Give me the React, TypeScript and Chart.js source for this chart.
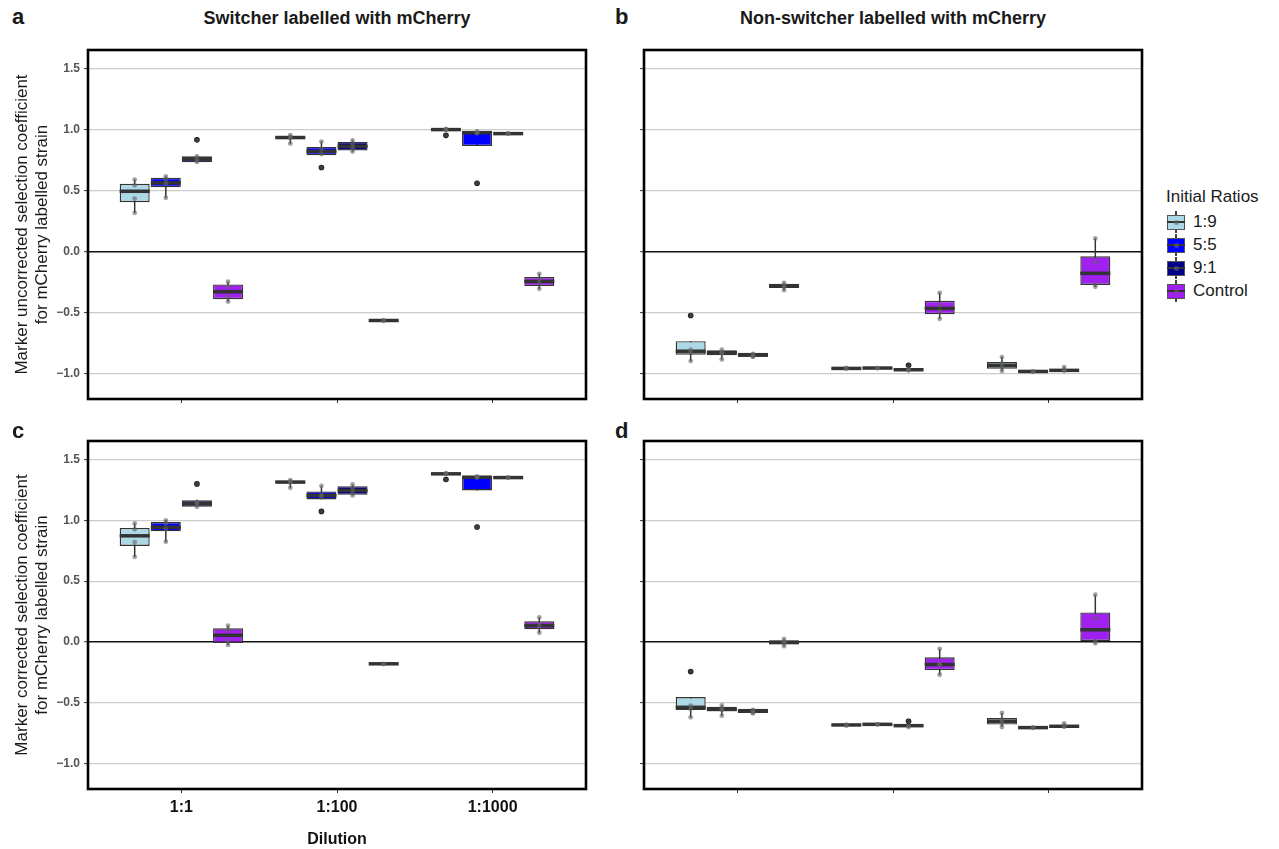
import React, { useEffect, useRef } from 'react';
import { Chart, registerables } from 'chart.js';

Chart.register(...registerables);

const FONT = "'Liberation Sans', Arial, Helvetica, sans-serif";

const dilutions = ['1:1', '1:100', '1:1000'];
const ratios = ['1:9', '5:5', '9:1', 'Control'];
const ratioColors = ['#ADD8E6', '#0000FF', '#00008B', '#A020F0'];
const yTicks = [-1.0, -0.5, 0.0, 0.5, 1.0, 1.5];
const dodge = [-0.3, -0.1, 0.1, 0.3];
const yMin = -1.21;
const yMax = 1.653;

// Panel a: switcher labelled, uncorrected  — arrays are [dilution][ratio]
const aLow = [[0.317, 0.44, 0.73, -0.41], [0.885, 0.79, 0.82, -0.572], [0.99, 0.865, 0.962, -0.306]];
const aQ1 = [[0.404, 0.527, 0.733, -0.391], [0.92, 0.79, 0.828, -0.569], [0.995, 0.865, 0.965, -0.284]];
const aMed = [[0.494, 0.563, 0.76, -0.33], [0.935, 0.822, 0.863, -0.566], [1.0, 0.975, 0.967, -0.246]];
const aQ3 = [[0.555, 0.604, 0.782, -0.27], [0.945, 0.858, 0.899, -0.563], [1.003, 0.98, 0.969, -0.21]];
const aHigh = [[0.59, 0.617, 0.785, -0.248], [0.955, 0.902, 0.912, -0.56], [1.005, 0.985, 0.972, -0.183]];
const aPoints = [
  [[0.59, 0.543, 0.434, 0.317], [0.617, 0.59, 0.556, 0.44], [0.916, 0.735, 0.755, 0.78], [-0.248, -0.29, -0.37, -0.41]],
  [[0.955, 0.94, 0.93, 0.885], [0.902, 0.84, 0.8, 0.689], [0.912, 0.88, 0.845, 0.82], [-0.566, -0.568]],
  [[1.005, 1.0, 0.998, 0.953], [0.985, 0.975, 0.97, 0.56], [0.967, 0.968], [-0.183, -0.23, -0.26, -0.306]],
];
const aOutliers = [[[], [], [0.916], []], [[], [0.689], [], []], [[0.953], [0.56], [], []]];

// Panel b: non-switcher labelled, uncorrected
const bLow = [[-0.899, -0.885, -0.866, -0.317], [-0.966, -0.962, -0.975, -0.552], [-0.981, -0.987, -0.978, -0.29]];
const bQ1 = [[-0.847, -0.852, -0.863, -0.3], [-0.962, -0.959, -0.972, -0.514], [-0.962, -0.985, -0.977, -0.275]];
const bMed = [[-0.818, -0.83, -0.85, -0.284], [-0.959, -0.956, -0.97, -0.467], [-0.934, -0.984, -0.975, -0.179]];
const bQ3 = [[-0.736, -0.811, -0.83, -0.265], [-0.956, -0.953, -0.965, -0.404], [-0.907, -0.982, -0.97, -0.039]];
const bHigh = [[-0.736, -0.806, -0.828, -0.257], [-0.953, -0.95, -0.962, -0.339], [-0.866, -0.98, -0.948, 0.107]];
const bPoints = [
  [[-0.525, -0.806, -0.83, -0.899], [-0.806, -0.83, -0.835, -0.885], [-0.84, -0.855, -0.86, -0.865], [-0.257, -0.28, -0.29, -0.317]],
  [[-0.955, -0.962], [-0.956, -0.957], [-0.934, -0.968, -0.972, -0.975], [-0.339, -0.44, -0.49, -0.552]],
  [[-0.866, -0.92, -0.95, -0.981], [-0.984, -0.985], [-0.948, -0.975, -0.977], [0.107, -0.088, -0.27, -0.29]],
];
const bOutliers = [[[-0.525], [], [], []], [[], [], [-0.934], []], [[], [], [], []]];

// Panel c: switcher labelled, corrected
const cLow = [[0.7, 0.825, 1.112, -0.025], [1.268, 1.172, 1.205, -0.186], [1.375, 1.246, 1.348, 0.076]];
const cQ1 = [[0.79, 0.91, 1.112, -0.008], [1.305, 1.172, 1.21, -0.183], [1.378, 1.246, 1.35, 0.104]];
const cMed = [[0.873, 0.943, 1.139, 0.055], [1.315, 1.205, 1.246, -0.18], [1.383, 1.355, 1.352, 0.134]];
const cQ3 = [[0.938, 0.986, 1.166, 0.112], [1.325, 1.238, 1.281, -0.177], [1.386, 1.358, 1.354, 0.17]];
const cHigh = [[0.975, 1.0, 1.17, 0.134], [1.33, 1.284, 1.295, -0.174], [1.388, 1.362, 1.356, 0.202]];
const cPoints = [
  [[0.975, 0.926, 0.82, 0.7], [1.0, 0.975, 0.93, 0.825], [1.3, 1.112, 1.14, 1.15], [0.134, 0.098, 0.01, -0.025]],
  [[1.33, 1.32, 1.31, 1.268], [1.284, 1.21, 1.195, 1.074], [1.295, 1.26, 1.23, 1.205], [-0.18, -0.182]],
  [[1.388, 1.383, 1.38, 1.336], [1.362, 1.355, 1.35, 0.945], [1.352, 1.353], [0.202, 0.15, 0.12, 0.076]],
];
const cOutliers = [[[], [], [1.3], []], [[], [1.074], [], []], [[1.336], [0.945], [], []]];

// Panel d: non-switcher labelled, corrected
const dLow = [[-0.62, -0.607, -0.588, -0.035], [-0.69, -0.683, -0.7, -0.27], [-0.7, -0.709, -0.699, -0.011]];
const dQ1 = [[-0.56, -0.571, -0.585, -0.019], [-0.687, -0.681, -0.695, -0.232], [-0.68, -0.707, -0.697, 0.008]];
const dMed = [[-0.538, -0.555, -0.568, -0.005], [-0.683, -0.678, -0.689, -0.186], [-0.653, -0.705, -0.694, 0.1]];
const dQ3 = [[-0.453, -0.533, -0.549, 0.014], [-0.679, -0.676, -0.685, -0.126], [-0.626, -0.703, -0.69, 0.243]];
const dHigh = [[-0.453, -0.522, -0.547, 0.025], [-0.676, -0.674, -0.682, -0.057], [-0.584, -0.701, -0.67, 0.388]];
const dPoints = [
  [[-0.243, -0.525, -0.55, -0.62], [-0.522, -0.55, -0.56, -0.607], [-0.56, -0.575, -0.58, -0.588], [0.025, -0.005, -0.01, -0.035]],
  [[-0.68, -0.69], [-0.678, -0.679], [-0.653, -0.69, -0.7], [-0.057, -0.18, -0.19, -0.27]],
  [[-0.584, -0.64, -0.665, -0.7], [-0.705, -0.706], [-0.67, -0.694, -0.697], [0.388, 0.194, 0.005, -0.011]],
];
const dOutliers = [[[-0.243], [], [], []], [[], [], [-0.653], []], [[], [], [], []]];

const yTitleA = ['Marker uncorrected selection coefficient', 'for mCherry labelled strain'];
const yTitleC = ['Marker corrected selection coefficient', 'for mCherry labelled strain'];

const panels = [
  { id: 'a', low: aLow, q1: aQ1, med: aMed, q3: aQ3, high: aHigh, pts: aPoints, outs: aOutliers,
    left: 0, top: 44, w: 600, h: 360, yW: 88, xH: 5, padTop: 6, padRight: 14, yLabels: true, xLabels: false, yTitle: yTitleA },
  { id: 'b', low: bLow, q1: bQ1, med: bMed, q3: bQ3, high: bHigh, pts: bPoints, outs: bOutliers,
    left: 640, top: 44, w: 510, h: 360, yW: 4, xH: 5, padTop: 6, padRight: 8, yLabels: false, xLabels: false, yTitle: null },
  { id: 'c', low: cLow, q1: cQ1, med: cMed, q3: cQ3, high: cHigh, pts: cPoints, outs: cOutliers,
    left: 0, top: 435, w: 600, h: 414, yW: 88, xH: 60, padTop: 6, padRight: 14, yLabels: true, xLabels: true, yTitle: yTitleC },
  { id: 'd', low: dLow, q1: dQ1, med: dMed, q3: dQ3, high: dHigh, pts: dPoints, outs: dOutliers,
    left: 640, top: 435, w: 510, h: 414, yW: 4, xH: 60, padTop: 6, padRight: 8, yLabels: false, xLabels: false, yTitle: null },
];

const borderPlugin = {
  id: 'panelBorder',
  afterDraw(chart: any) {
    const { ctx, chartArea: a } = chart;
    ctx.save();
    ctx.strokeStyle = '#000';
    ctx.lineWidth = 2.6;
    ctx.strokeRect(a.left, a.top, a.right - a.left, a.bottom - a.top);
    ctx.restore();
  },
};

function buildConfig(p: any) {
  const datasets: any[] = [];
  const pointData: any[] = [];
  const outlierData: any[] = [];
  ratios.forEach((name, r) => {
    const xs = dilutions.map((_, d) => d + 1 + dodge[r]);
    datasets.push({
      type: 'bar', label: name + ' whiskers',
      data: xs.map((x, d) => ({ x, y: [p.low[d][r], p.high[d][r]] })),
      backgroundColor: '#333333', borderWidth: 0, barThickness: 1.5, grouped: false, inflateAmount: 0, order: 5,
    });
    datasets.push({
      type: 'bar', label: name,
      data: xs.map((x, d) => ({ x, y: [p.q1[d][r], p.q3[d][r]] })),
      backgroundColor: ratioColors[r], borderColor: '#333333', borderWidth: 1.4, borderSkipped: false,
      barThickness: 30, grouped: false, inflateAmount: 0, order: 4,
    });
    datasets.push({
      type: 'scatter', label: name + ' median',
      data: xs.map((x, d) => ({ x, y: p.med[d][r] })),
      pointStyle: 'line', pointRadius: 15, pointHoverRadius: 15,
      pointBorderColor: '#333333', borderColor: '#333333', pointBorderWidth: 3.5, order: 3,
    });
    xs.forEach((x, d) => {
      p.pts[d][r].forEach((v: number) => pointData.push({ x, y: v }));
      p.outs[d][r].forEach((v: number) => outlierData.push({ x, y: v }));
    });
  });
  datasets.push({
    type: 'scatter', label: 'outliers', data: outlierData,
    pointRadius: 2.8, pointBackgroundColor: '#000000', pointBorderWidth: 0, order: 2,
  });
  datasets.push({
    type: 'scatter', label: 'replicates', data: pointData,
    pointRadius: 2.4, pointBackgroundColor: 'rgba(100,100,100,0.6)', pointBorderWidth: 0, order: 1,
  });

  return {
    type: 'scatter',
    data: { datasets },
    plugins: [borderPlugin],
    options: {
      animation: false,
      responsive: false,
      maintainAspectRatio: false,
      devicePixelRatio: 1,
      events: [],
      layout: { autoPadding: false, padding: { top: p.padTop, right: p.padRight, left: 0, bottom: 0 } },
      plugins: { legend: { display: false }, tooltip: { enabled: false } },
      scales: {
        x: {
          type: 'linear', min: 0.4, max: 3.6, bounds: 'data', offset: false,
          afterBuildTicks: (s: any) => { s.ticks = dilutions.map((_, i) => ({ value: i + 1 })); },
          afterFit: (s: any) => { s.height = p.xH; s.paddingLeft = 0; s.paddingRight = 0; },
          ticks: {
            display: p.xLabels, autoSkip: false, maxRotation: 0, padding: 5, color: '#111111',
            font: { family: FONT, size: 16, weight: 'bold' },
            callback: (v: number) => dilutions[Math.round(v) - 1] ?? '',
          },
          grid: { display: true, drawOnChartArea: false, drawTicks: true, tickLength: 4, tickColor: '#333333', tickWidth: 1, offset: false },
          border: { display: false },
          title: {
            display: p.xLabels, text: 'Dilution', color: '#111111',
            font: { family: FONT, size: 16, weight: 'bold' }, padding: { top: 0, bottom: 0 },
          },
        },
        y: {
          type: 'linear', min: yMin, max: yMax, bounds: 'data',
          afterBuildTicks: (s: any) => { s.ticks = yTicks.map((v) => ({ value: v })); },
          afterFit: (s: any) => { s.width = p.yW; s.paddingTop = 0; s.paddingBottom = 0; },
          ticks: {
            display: p.yLabels, padding: 4, color: '#555555',
            font: { family: FONT, size: 12, weight: 'bold' },
            callback: (v: number) => (v < 0 ? '\u2212' : '') + Math.abs(v).toFixed(1),
          },
          grid: {
            color: (c: any) => (c.tick && Math.abs(c.tick.value) < 1e-9 ? '#111111' : '#cccccc'),
            lineWidth: (c: any) => (c.tick && Math.abs(c.tick.value) < 1e-9 ? 1.4 : 1.2),
            drawTicks: true, tickLength: 4, tickColor: '#333333', tickWidth: 1,
          },
          border: { display: false },
          title: {
            display: !!p.yTitle, text: p.yTitle || '', color: '#1a1a1a',
            font: { family: FONT, size: 17, lineHeight: 1.2 }, padding: { top: 12, bottom: 0 },
          },
        },
      },
    },
  };
}

function BoxPanel({ p }: { p: any }) {
  const ref = useRef<HTMLCanvasElement | null>(null);
  useEffect(() => {
    if (!ref.current) return;
    const chart = new Chart(ref.current, buildConfig(p) as any);
    return () => chart.destroy();
  }, []);
  return (
    <canvas
      ref={ref}
      width={p.w}
      height={p.h}
      style={{ position: 'absolute', left: p.left, top: p.top, width: p.w, height: p.h }}
    />
  );
}

const textBase: React.CSSProperties = { position: 'absolute', fontFamily: FONT, color: '#1a1a1a', whiteSpace: 'nowrap' };

const legendY = [222, 245, 268, 291];

function LegendKey({ color, cy }: { color: string; cy: number }) {
  return (
    <>
      <div style={{ position: 'absolute', left: 1175, top: cy - 11, width: 1.5, height: 22, background: '#444' }} />
      <div style={{ position: 'absolute', left: 1167, top: cy - 7, width: 16, height: 13, background: color, border: '1px solid #555' }} />
      <div style={{ position: 'absolute', left: 1167, top: cy - 1, width: 18, height: 2, background: '#333' }} />
      <div style={{ position: 'absolute', left: 1173.5, top: cy - 2.5, width: 5, height: 5, borderRadius: 3, background: 'rgba(100,100,100,0.6)' }} />
    </>
  );
}

export default function App() {
  return (
    <div style={{ position: 'absolute', left: 0, top: 0, width: 1279, height: 849, background: '#ffffff', overflow: 'hidden' }}>
      {panels.map((p) => <BoxPanel key={p.id} p={p} />)}

      <div style={{ ...textBase, left: 12, top: 6, fontSize: 22, fontWeight: 'bold', lineHeight: '22px' }}>a</div>
      <div style={{ ...textBase, left: 615, top: 6, fontSize: 22, fontWeight: 'bold', lineHeight: '22px' }}>b</div>
      <div style={{ ...textBase, left: 12, top: 420, fontSize: 22, fontWeight: 'bold', lineHeight: '22px' }}>c</div>
      <div style={{ ...textBase, left: 615, top: 420, fontSize: 22, fontWeight: 'bold', lineHeight: '22px' }}>d</div>

      <div style={{ ...textBase, left: 88, width: 498, top: 8, textAlign: 'center', fontSize: 18, fontWeight: 'bold', lineHeight: '20px' }}>
        Switcher labelled with mCherry
      </div>
      <div style={{ ...textBase, left: 644, width: 498, top: 8, textAlign: 'center', fontSize: 18, fontWeight: 'bold', lineHeight: '20px' }}>
        Non-switcher labelled with mCherry
      </div>

      <div style={{ ...textBase, left: 1166, top: 187, fontSize: 17, lineHeight: '20px' }}>Initial Ratios</div>
      {ratios.map((name, i) => (
        <React.Fragment key={name}>
          <LegendKey color={ratioColors[i]} cy={legendY[i]} />
          <div style={{ ...textBase, left: 1193, top: legendY[i] - 10, fontSize: 17, lineHeight: '20px' }}>{name}</div>
        </React.Fragment>
      ))}
    </div>
  );
}
